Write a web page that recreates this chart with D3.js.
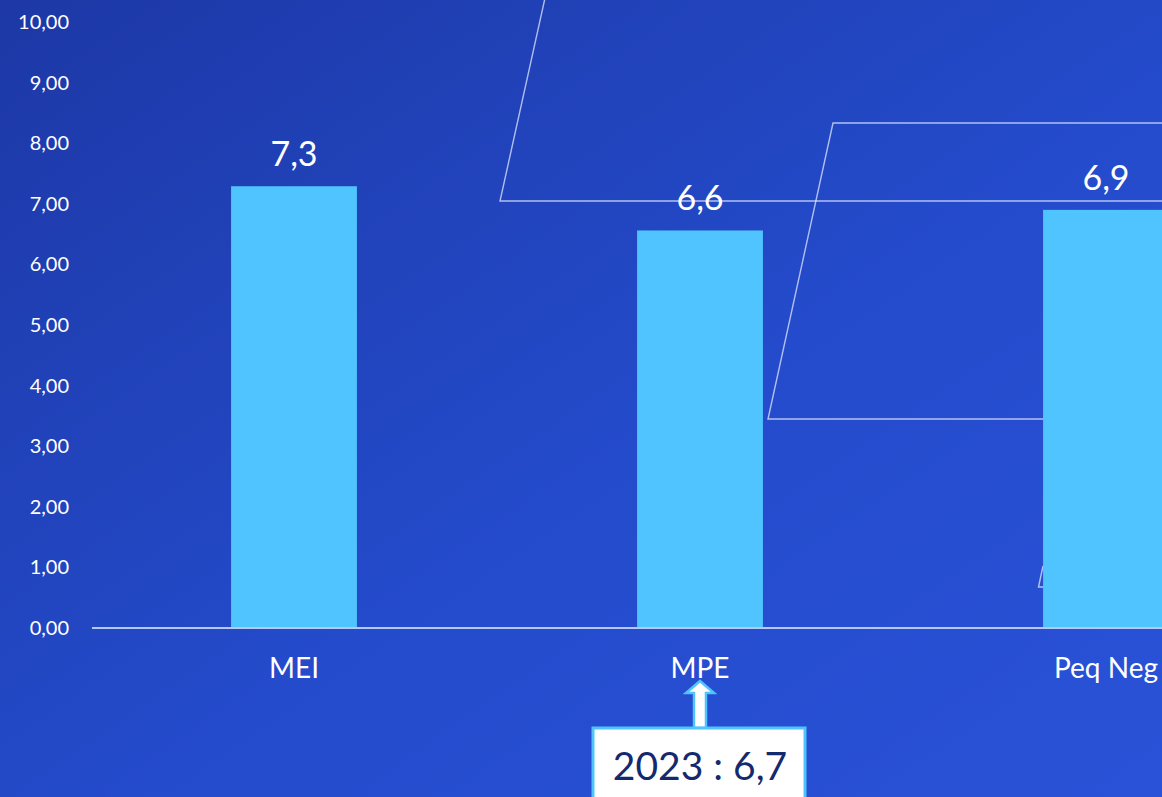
<!DOCTYPE html>
<html>
<head>
<meta charset="utf-8">
<script src="https://cdn.jsdelivr.net/npm/d3@7"></script>
<style>
  html, body { margin: 0; padding: 0; overflow: hidden; }
  svg { display: block; font-family: Lato, "Open Sans", sans-serif; }
</style>
</head>
<body>
<svg width="1162" height="797"></svg>
<script>
const WIDTH = 1162;
const HEIGHT = 797;

// chart data
const categories = ["MEI", "MPE", "Peq Neg"];
const values = [7.29, 6.56, 6.9];
const yTicks = [0, 1, 2, 3, 4, 5, 6, 7, 8, 9, 10];
const noteCategory = "MPE";
const noteLabel = "2023 : 6,7";

const fmt = (v, d) => v.toFixed(d).replace(".", ",");

let svg = d3.select("svg");

// background gradient
let defs = svg.append("defs");
let grad = defs.append("linearGradient")
               .attr("id", "bg")
               .attr("x1", "0%").attr("y1", "0%")
               .attr("x2", "100%").attr("y2", "100%");
grad.append("stop").attr("offset", "0%").attr("stop-color", "#1d38a6");
grad.append("stop").attr("offset", "55%").attr("stop-color", "#244bcb");
grad.append("stop").attr("offset", "100%").attr("stop-color", "#2a52d8");

svg.append("rect")
   .attr("width", WIDTH)
   .attr("height", HEIGHT)
   .attr("fill", "url(#bg)");

// decorative outline shapes behind the bars
const deco = svg.append("g")
                .attr("fill", "none")
                .attr("stroke", "rgba(225,232,255,0.75)")
                .attr("stroke-width", 1.4);
deco.append("path").attr("d", "M549,-20 L500,201 L1170,201");
deco.append("path").attr("d", "M1170,123 L833,123 L768,419 L1060,419");
deco.append("path").attr("d", "M1043,566 L1038.5,587 L1080,587");

let x = d3.scaleBand()
          .domain(categories)
          .range([91, 1309])
          .paddingInner(0.69)
          .paddingOuter(0.345);

let y = d3.scaleLinear()
          .domain([0, 10])
          .range([628, 22]);

// y axis labels
let yAxis = svg.append("g")
               .attr("transform", "translate(69,0)")
               .call(d3.axisLeft(y).tickValues(yTicks).tickSize(0).tickPadding(0).tickFormat(d => fmt(d, 2)));
yAxis.select(".domain").remove();
yAxis.selectAll("text")
     .attr("fill", "#ffffff")
     .attr("font-size", 20)
     .attr("font-family", "Lato, 'Open Sans', sans-serif");

// bars
svg.append("g")
   .selectAll("rect")
   .data(values)
   .enter().append("rect")
   .attr("x", (d, i) => x(categories[i]))
   .attr("y", d => y(d))
   .attr("width", x.bandwidth())
   .attr("height", d => y(0) - y(d))
   .attr("fill", "#4fc4fe");

// value labels
svg.append("g")
   .selectAll("text")
   .data(values)
   .enter().append("text")
   .attr("x", (d, i) => x(categories[i]) + x.bandwidth() / 2)
   .attr("y", d => y(d) - 20)
   .attr("text-anchor", "middle")
   .attr("fill", "#ffffff")
   .attr("font-size", 34)
   .text(d => fmt(d, 1));

// baseline
svg.append("line")
   .attr("x1", 92).attr("x2", WIDTH)
   .attr("y1", y(0)).attr("y2", y(0))
   .attr("stroke", "#b4c8f4")
   .attr("stroke-width", 2);

// category labels
svg.append("g")
   .selectAll("text")
   .data(categories)
   .enter().append("text")
   .attr("x", d => x(d) + x.bandwidth() / 2)
   .attr("y", 678)
   .attr("text-anchor", "middle")
   .attr("fill", "#ffffff")
   .attr("font-size", 28)
   .text(d => d);

// annotation with arrow
const cx = x(noteCategory) + x.bandwidth() / 2;
let note = svg.append("g");
note.append("path")
    .attr("d", `M${cx},681 L${cx + 14},693 L${cx + 6},693 L${cx + 6},728 L${cx - 6},728 L${cx - 6},693 L${cx - 14},693 Z`)
    .attr("fill", "#ffffff")
    .attr("stroke", "#4fc4fe")
    .attr("stroke-width", 2.5);
note.append("rect")
    .attr("x", cx - 107)
    .attr("y", 728)
    .attr("width", 212)
    .attr("height", 90)
    .attr("fill", "#ffffff")
    .attr("stroke", "#4fc4fe")
    .attr("stroke-width", 3);
note.append("text")
    .attr("x", cx)
    .attr("y", 780)
    .attr("text-anchor", "middle")
    .attr("fill", "#142a6e")
    .attr("font-size", 39)
    .text(noteLabel);
</script>
</body>
</html>
